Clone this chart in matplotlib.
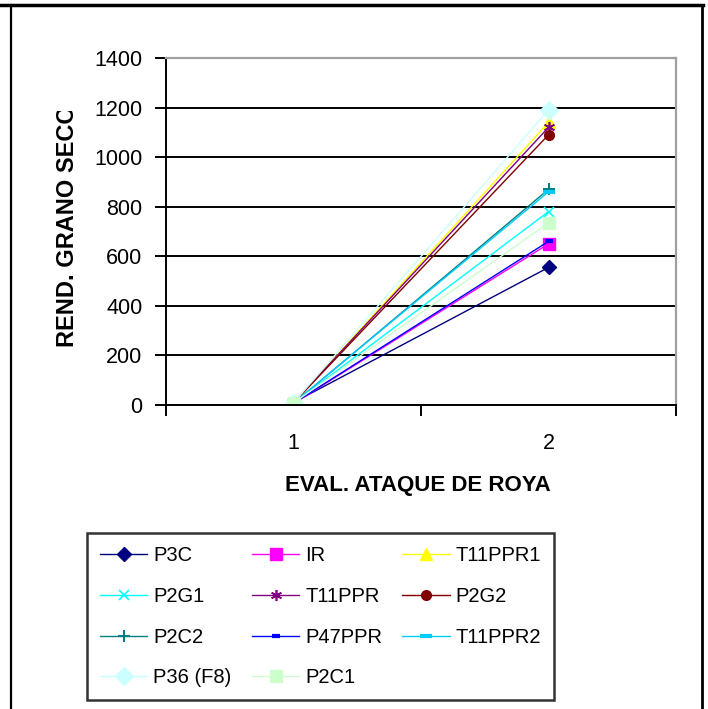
import numpy as np
import matplotlib
matplotlib.use("Agg")
from matplotlib import pyplot as plt
from matplotlib.lines import Line2D
from matplotlib.transforms import Bbox

plt.rcParams['font.family'] = ['Liberation Sans', 'DejaVu Sans']

x = [1, 2]
series = ["P3C", "IR", "T11PPR1", "P2G1", "T11PPR", "P2G2",
          "P2C2", "P47PPR", "T11PPR2", "P36 (F8)", "P2C1"]
eval1 = [10, 6, 8, 7, 9, 8, 6, 7, 8, 9, 8]
eval2 = [555, 650, 1140, 780, 1120, 1090, 870, 660, 860, 1190, 735]

colors = ["#000080", "#FF00FF", "#FFFF00", "#00FFFF", "#800080", "#800000",
          "#008080", "#0000FF", "#00CCFF", "#CCFFFF", "#CCFFCC"]
markers = ["D", "s", "^", "x", (6, 2, 0), "o", "+", "_", "_", "D", "s"]
msizes = [7, 8, 8, 7, 8, 7, 9, 6, 9, 9, 9]
mews = [1, 1, 1, 1.2, 1.2, 1, 1.5, 3, 3, 1, 1]

W, H = 708, 709
fig = plt.figure(figsize=(W / 100, H / 100), dpi=100)
ax = fig.add_axes([166 / W, 1 - 405 / H, (676 - 166) / W, (405 - 58) / H])

for i, name in enumerate(series):
    ax.plot(x, [eval1[i], eval2[i]], color=colors[i], lw=1.0,
            marker=markers[i], markersize=msizes[i], markeredgewidth=mews[i],
            markerfacecolor=colors[i], markeredgecolor=colors[i], label=name)

ax.set_xlim(0.5, 2.5)
ax.set_ylim(0, 1400)
ax.set_yticks(np.arange(0, 1401, 200))
ax.yaxis.grid(True, color="black", lw=1.4)
ax.set_axisbelow(True)

# category axis: tick marks between categories, labels under each category
ax.set_xticks([0.5, 1.5, 2.5])
ax.set_xticklabels([])
ax.set_xticks([1, 2], minor=True)
ax.set_xticklabels(["1", "2"], minor=True)
ax.tick_params(axis="x", which="major", direction="out", length=8, width=1.4)
ax.tick_params(axis="x", which="minor", length=0, pad=20, labelsize=15.5)
ax.tick_params(axis="y", direction="out", length=8, width=1.4, pad=9,
               labelsize=15.5)

for side in ["top", "right"]:
    ax.spines[side].set_color("#a0a0a0")
    ax.spines[side].set_linewidth(1.6)
for side in ["left", "bottom"]:
    ax.spines[side].set_color("black")
    ax.spines[side].set_linewidth(1.4)

fig.text(418 / W, 1 - 485 / H, "EVAL. ATAQUE DE ROYA", ha="center",
         va="center", fontsize=16, fontweight="bold")

ylab = fig.text(68 / W, 1 - 347 / H, "REND. GRANO SECO", rotation=90,
                ha="center", va="bottom", fontsize=17, fontweight="bold")
ylab.set_clip_box(Bbox.from_extents(0, 0, W, H - 111))
ylab.set_clip_on(True)

# legend laid out row by row, three columns
handles, labels = ax.get_legend_handles_labels()
order = [0, 3, 6, 9, 1, 4, 7, 10, 2, 5, 8]
leg = fig.legend([handles[k] for k in order], [labels[k] for k in order],
                 ncol=3, loc="upper left",
                 bbox_to_anchor=(87 / W, 1 - 533 / H),
                 fontsize=14.5, frameon=True, fancybox=False,
                 edgecolor="black", handlelength=2.35, handletextpad=0.3,
                 columnspacing=1.0, labelspacing=1.08, borderpad=0.65,
                 borderaxespad=0)
leg.get_frame().set_linewidth(1.8)

# outer chart border
fig.add_artist(Line2D([0, 703 / W], [1 - 5 / H, 1 - 5 / H], color="black",
                      lw=2.5, transform=fig.transFigure))
fig.add_artist(Line2D([11 / W, 11 / W], [0, 1 - 5 / H], color="black",
                      lw=1.6, transform=fig.transFigure))
fig.add_artist(Line2D([702 / W, 702 / W], [0, 1 - 5 / H], color="black",
                      lw=2.0, transform=fig.transFigure))

fig.savefig("out.png", dpi=100)
